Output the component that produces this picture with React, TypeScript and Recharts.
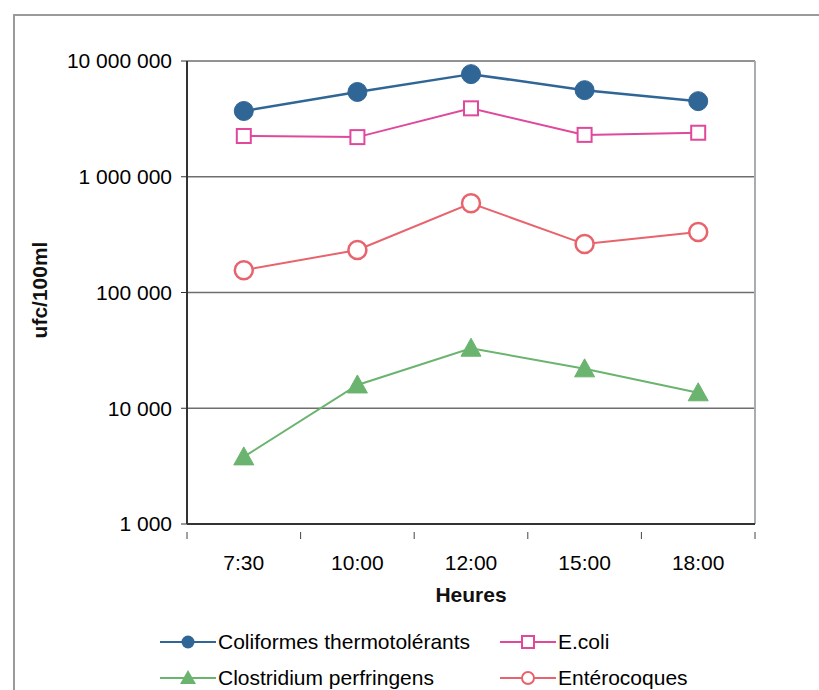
import React from 'react';
import {
  LineChart,
  Line,
  XAxis,
  YAxis,
  CartesianGrid,
  ReferenceLine,
} from 'recharts';

const categories = ['7:30', '10:00', '12:00', '15:00', '18:00'];
const coliformes = [3700000, 5400000, 7700000, 5600000, 4500000];
const ecoli = [2250000, 2200000, 3900000, 2300000, 2400000];
const enterocoques = [156000, 233000, 590000, 262000, 333000];
const clostridium = [3800, 15900, 33000, 21900, 13600];
const yTicks = [1000, 10000, 100000, 1000000, 10000000];

const BLUE = '#2f6696';
const PINK = '#e0489c';
const SALMON = '#e8636c';
const GREEN = '#6bb46f';
const FONT = '"Liberation Sans", Arial, sans-serif';

const data = categories.map((c, i) => ({
  x: i + 0.5,
  label: c,
  coliformes: coliformes[i],
  ecoli: ecoli[i],
  enterocoques: enterocoques[i],
  clostridium: clostridium[i],
}));

// half steps carry labels, whole steps carry the tick marks (Excel style)
const xTicks = [0, 0.5, 1, 1.5, 2, 2.5, 3, 3.5, 4, 4.5, 5];

const fmt = (v: number) => String(v).replace(/\B(?=(\d{3})+(?!\d))/g, ' ');

function XTick(props: any) {
  const { x, y, payload } = props;
  const v = payload.value as number;
  if (Number.isInteger(v)) {
    return <line x1={x} y1={y} x2={x} y2={y + 7} stroke="#444" strokeWidth={1} />;
  }
  return (
    <text x={x} y={y + 38} textAnchor="middle" fill="#000" fontSize={21} fontFamily={FONT}>
      {categories[Math.floor(v)]}
    </text>
  );
}

function SquareDot(props: any) {
  const { cx, cy } = props;
  if (cx == null || cy == null) return null;
  return <rect x={cx - 7} y={cy - 7} width={14} height={14} fill="#fff" stroke={PINK} strokeWidth={2} />;
}

function TriangleDot(props: any) {
  const { cx, cy } = props;
  if (cx == null || cy == null) return null;
  return <polygon points={`${cx},${cy - 10} ${cx + 10},${cy + 8} ${cx - 10},${cy + 8}`} fill={GREEN} stroke={GREEN} />;
}

function LegendItem({ color, kind, text, left, top }: any) {
  return (
    <div style={{ position: 'absolute', left, top, display: 'flex', alignItems: 'center', height: 24 }}>
      <svg width={56} height={20}>
        <line x1={0} y1={10} x2={56} y2={10} stroke={color} strokeWidth={2} />
        {kind === 'fcircle' && <circle cx={28} cy={10} r={6.5} fill={color} />}
        {kind === 'ocircle' && <circle cx={28} cy={10} r={6} fill="#fff" stroke={color} strokeWidth={2} />}
        {kind === 'square' && <rect x={22} y={4} width={12} height={12} fill="#fff" stroke={color} strokeWidth={2} />}
        {kind === 'triangle' && <polygon points="28,2 36,16 20,16" fill={color} />}
      </svg>
      <span style={{ marginLeft: 2, fontFamily: FONT, fontSize: 21, color: '#000', whiteSpace: 'nowrap' }}>{text}</span>
    </div>
  );
}

export default function App() {
  return (
    <div style={{ position: 'absolute', left: 0, top: 0, width: 819, height: 690, background: '#fff', overflow: 'hidden' }}>
      <div style={{ position: 'absolute', left: 13, top: 14, width: 830, height: 700, borderLeft: '2px solid #9a9a9a', borderTop: '2px solid #9a9a9a' }} />
      <LineChart
        width={819}
        height={690}
        data={data}
        margin={{ top: 61, right: 64, left: 0, bottom: 126 }}
        style={{ position: 'absolute', left: 0, top: 0 }}
      >
        <CartesianGrid vertical={false} stroke="#6e6e6e" strokeWidth={1.5} />
        <XAxis
          dataKey="x"
          type="number"
          domain={[0, 5]}
          ticks={xTicks}
          interval={0}
          tick={<XTick />}
          tickLine={false}
          axisLine={{ stroke: '#333', strokeWidth: 2 }}
          height={40}
          label={() => (
            <text x={471} y={602} textAnchor="middle" fontSize={21} fontWeight="bold" fill="#111" fontFamily={FONT}>
              Heures
            </text>
          )}
        />
        <YAxis
          scale="log"
          domain={[1000, 10000000]}
          ticks={yTicks}
          allowDataOverflow
          width={187}
          tickSize={6}
          tickMargin={9}
          tickFormatter={fmt}
          tick={{ fill: '#000', fontSize: 21, fontFamily: FONT }}
          tickLine={{ stroke: '#333' }}
          axisLine={{ stroke: '#333', strokeWidth: 2 }}
          label={() => (
            <text x={47} y={290} transform="rotate(-90 47 290)" textAnchor="middle" fontSize={21} fontWeight="bold" fill="#111" fontFamily={FONT}>
              ufc/100ml
            </text>
          )}
        />
        <ReferenceLine x={5} stroke="#a8adb4" strokeWidth={2} />
        <Line
          dataKey="clostridium"
          stroke={GREEN}
          strokeWidth={2}
          dot={<TriangleDot />}
          isAnimationActive={false}
        />
        <Line
          dataKey="enterocoques"
          stroke={SALMON}
          strokeWidth={2}
          dot={{ r: 9, fill: '#fff', stroke: SALMON, strokeWidth: 2.5 }}
          isAnimationActive={false}
        />
        <Line
          dataKey="ecoli"
          stroke={PINK}
          strokeWidth={2}
          dot={<SquareDot />}
          isAnimationActive={false}
        />
        <Line
          dataKey="coliformes"
          stroke={BLUE}
          strokeWidth={2.5}
          dot={{ r: 9.5, fill: BLUE, stroke: BLUE, strokeWidth: 1 }}
          isAnimationActive={false}
        />
      </LineChart>
      <LegendItem color={BLUE} kind="fcircle" text="Coliformes thermotolérants" left={160} top={630} />
      <LegendItem color={PINK} kind="square" text="E.coli" left={500} top={630} />
      <LegendItem color={GREEN} kind="triangle" text="Clostridium perfringens" left={160} top={666} />
      <LegendItem color={SALMON} kind="ocircle" text="Entérocoques" left={500} top={666} />
    </div>
  );
}
